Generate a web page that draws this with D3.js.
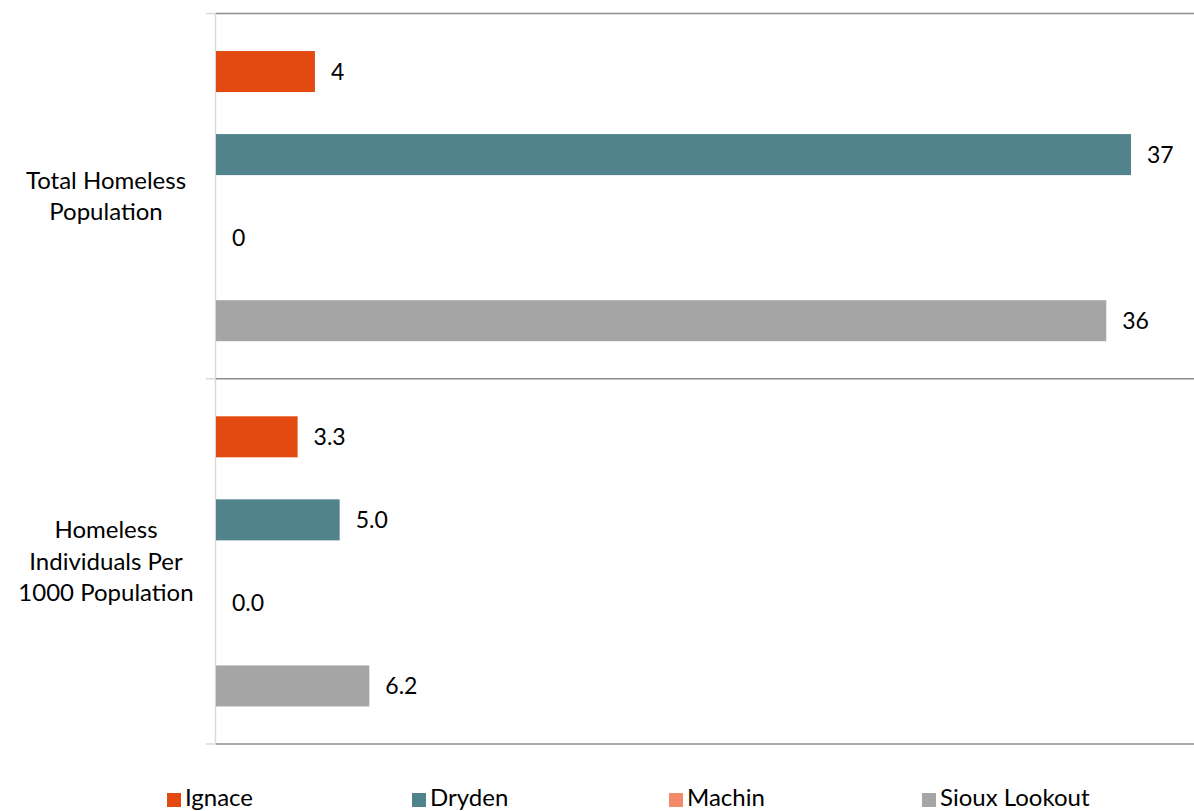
<!DOCTYPE html>
<html>
<head>
<meta charset="utf-8">
<script src="https://cdn.jsdelivr.net/npm/d3@7"></script>
<style>
  body { margin: 0; background: #fff; }
  text { font-family: Lato, "Noto Sans", sans-serif; fill: #000; }
</style>
</head>
<body>
<svg id="chart" width="1194" height="811"></svg>
<script>
// data
var categories = ["Total Homeless Population", "Homeless Individuals Per 1000 Population"];
var categoryLines = [["Total Homeless", "Population"], ["Homeless", "Individuals Per", "1000 Population"]];
var seriesNames = ["Ignace", "Dryden", "Machin", "Sioux Lookout"];
var seriesColors = ["#E34A12", "#51838C", "#F4896A", "#A5A5A5"];
var totalValues = [4, 37, 0, 36];
var perThousandValues = [3.3, 5.0, 0.0, 6.2];
var labelFormats = [d3.format("d"), d3.format(".1f")];

var svg = d3.select("#chart");
var plotLeft = 216, plotRight = 1194, plotTop = 13.5, plotBottom = 744;

var y0 = d3.scaleBand().domain(categories).range([plotTop, plotBottom]).padding(0);
var y1 = d3.scaleBand().domain(seriesNames).range([0, y0.bandwidth()])
    .paddingInner(0.506).paddingOuter(0.452);
var x = d3.scaleLinear().domain([0, 40]).range([plotLeft, plotLeft + 40 * 24.73]);

// vertical axis line
svg.append("line")
    .attr("x1", plotLeft - 0.5).attr("x2", plotLeft - 0.5)
    .attr("y1", plotTop).attr("y2", plotBottom)
    .attr("stroke", "#d9d9d9").attr("stroke-width", 1.5);

// category separators
var seps = [plotTop, y0(categories[1]), plotBottom];
seps.forEach(function(s){
  svg.append("line")
      .attr("x1", 206).attr("x2", plotLeft)
      .attr("y1", s).attr("y2", s)
      .attr("stroke", "#d9d9d9").attr("stroke-width", 1.5);
  svg.append("line")
      .attr("x1", plotLeft).attr("x2", plotRight)
      .attr("y1", s).attr("y2", s)
      .attr("stroke", "#8c8c8c").attr("stroke-width", 1.5);
});

var groups = [totalValues, perThousandValues];
groups.forEach(function(vals, gi){
  var g = svg.append("g").attr("transform", "translate(0," + y0(categories[gi]) + ")");
  g.selectAll("rect")
      .data(vals)
      .enter()
      .append("rect")
      .attr("x", x(0))
      .attr("y", function(d, i){ return y1(seriesNames[i]); })
      .attr("width", function(d){ return x(d) - x(0); })
      .attr("height", y1.bandwidth())
      .attr("fill", function(d, i){ return seriesColors[i]; });
  g.selectAll("text.val")
      .data(vals)
      .enter()
      .append("text")
      .attr("class", "val")
      .attr("x", function(d){ return x(d) + 16; })
      .attr("y", function(d, i){ return y1(seriesNames[i]) + y1.bandwidth() / 2; })
      .attr("dy", "0.35em")
      .attr("font-size", 23)
      .text(function(d){ return labelFormats[gi](d); });

  // category label
  var lines = categoryLines[gi];
  var cy = y0(categories[gi]) + y0.bandwidth() / 2;
  var lh = 31.5;
  svg.append("text")
      .attr("text-anchor", "middle")
      .attr("font-size", 24)
      .selectAll("tspan")
      .data(lines)
      .enter()
      .append("tspan")
      .attr("x", 106)
      .attr("y", function(d, i){ return cy + (i - (lines.length - 1) / 2) * lh; })
      .attr("dy", "0.35em")
      .text(function(d){ return d; });
});

// legend
var legendX = [167, 412, 669, 922];
var legend = svg.selectAll(".legend")
    .data(seriesNames)
    .enter()
    .append("g")
    .attr("class", "legend")
    .attr("transform", function(d, i){ return "translate(" + legendX[i] + ",798)"; });
legend.append("rect")
    .attr("x", 0).attr("y", -5)
    .attr("width", 14).attr("height", 14)
    .attr("fill", function(d, i){ return seriesColors[i]; });
legend.append("text")
    .attr("x", 18).attr("y", 0)
    .attr("dy", "0.35em")
    .attr("font-size", 24)
    .text(function(d){ return d; });
</script>
</body>
</html>
